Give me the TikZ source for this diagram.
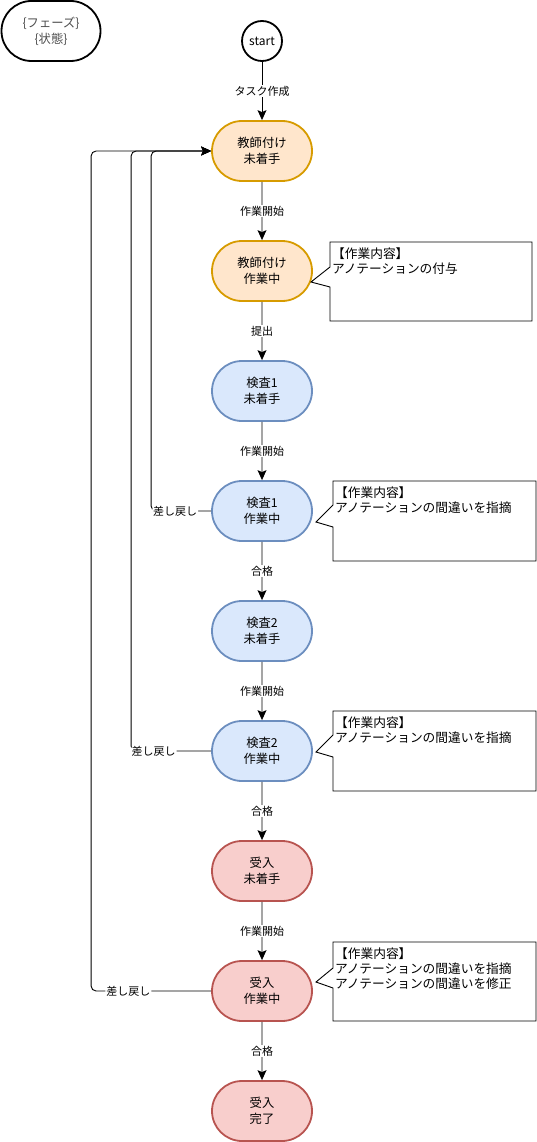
\documentclass[tikz,border=0pt]{standalone}
\usepackage{fontspec}
\setmainfont{Noto Sans CJK JP}
\usetikzlibrary{arrows.meta,shapes.misc,positioning,calc}
\definecolor{orgfill}{HTML}{FFE6CC}
\definecolor{orgline}{HTML}{D79B00}
\definecolor{bluefill}{HTML}{DAE8FC}
\definecolor{blueline}{HTML}{6C8EBF}
\definecolor{redfill}{HTML}{F8CECC}
\definecolor{redline}{HTML}{B85450}
\tikzset{
  state/.style={rounded rectangle, draw, line width=1.8pt, minimum width=100pt,
    minimum height=60pt, inner sep=0pt, align=center,
    font=\fontsize{12.3pt}{16pt}\selectfont},
  phase0/.style={state, draw=orgline, fill=orgfill},
  phase1/.style={state, draw=blueline, fill=bluefill},
  phase2/.style={state, draw=redline, fill=redfill},
  flow/.style={-{Stealth[length=10pt,width=9pt,inset=2pt]}, line width=0.9pt},
  back/.style={flow, rounded corners=5pt},
  elab/.style={fill=white, inner sep=1pt, font=\fontsize{11pt}{13pt}\selectfont},
  memo/.style={draw, line width=0.9pt, fill=white},
  memotext/.style={anchor=north west, inner sep=0pt, align=left,
    font=\fontsize{12.7pt}{15pt}\selectfont}
}
\begin{document}
\begin{tikzpicture}[x=1pt, y=-1pt]
\useasboundingbox (0,0) rectangle (537,1142);

% legend
\node[state, draw=black, minimum width=99pt, text=black!70] at (51,31) (legend) {\{フェーズ\}\\\{状態\}};

% states
\node[circle, draw, line width=1.8pt, minimum size=40pt, inner sep=0pt,
  font=\fontsize{12pt}{14pt}\selectfont] at (262,41) (start) {start};
\node[phase0] at (262,151) (t0) {教師付け\\未着手};
\node[phase0] at (262,271) (t1) {教師付け\\作業中};
\node[phase1] at (262,391) (c10) {検査1\\未着手};
\node[phase1] at (262,511) (c11) {検査1\\作業中};
\node[phase1] at (262,631) (c20) {検査2\\未着手};
\node[phase1] at (262,751) (c21) {検査2\\作業中};
\node[phase2] at (262,871) (a0) {受入\\未着手};
\node[phase2] at (262,991) (a1) {受入\\作業中};
\node[phase2] at (262,1111) (a2) {受入\\完了};

% forward transitions
\draw[flow] (start) -- node[elab] {タスク作成} (t0);
\draw[flow] (t0) -- node[elab] {作業開始} (t1);
\draw[flow] (t1) -- node[elab] {提出} (c10);
\draw[flow] (c10) -- node[elab] {作業開始} (c11);
\draw[flow] (c11) -- node[elab] {合格} (c20);
\draw[flow] (c20) -- node[elab] {作業開始} (c21);
\draw[flow] (c21) -- node[elab] {合格} (a0);
\draw[flow] (a0) -- node[elab] {作業開始} (a1);
\draw[flow] (a1) -- node[elab] {合格} (a2);

% send back
\draw[back] (c11.west) -- node[elab, pos=0.6] {差し戻し} ++(-60,0) |- (t0.west);
\draw[back] (c21.west) -- node[elab, pos=0.72] {差し戻し} ++(-80,0) |- (t0.west);
\draw[back] (a1.west) -- node[elab, pos=0.69] {差し戻し} ++(-120,0) |- (t0.west);

% work notes
\draw[memo] (330,242) -- (532,242) -- (532,321) -- (330,321) -- (330,287) -- (311,282) -- (330,267) -- cycle;
\node[memotext] at (332,248) (memo1) {【作業内容】\\アノテーションの付与};
\draw[memo] (333,481) -- (536,481) -- (536,561) -- (333,561) -- (333,527) -- (316,522) -- (333,505) -- cycle;
\node[memotext] at (335,487) (memo2) {【作業内容】\\アノテーションの間違いを指摘};
\draw[memo] (333,711) -- (536,711) -- (536,791) -- (333,791) -- (333,757) -- (316,752) -- (333,735) -- cycle;
\node[memotext] at (335,717) (memo3) {【作業内容】\\アノテーションの間違いを指摘};
\draw[memo] (333,942) -- (536,942) -- (536,1021) -- (333,1021) -- (333,988) -- (316,982) -- (333,968) -- cycle;
\node[memotext] at (335,948) (memo4) {【作業内容】\\アノテーションの間違いを指摘\\アノテーションの間違いを修正};
\end{tikzpicture}
\end{document}
